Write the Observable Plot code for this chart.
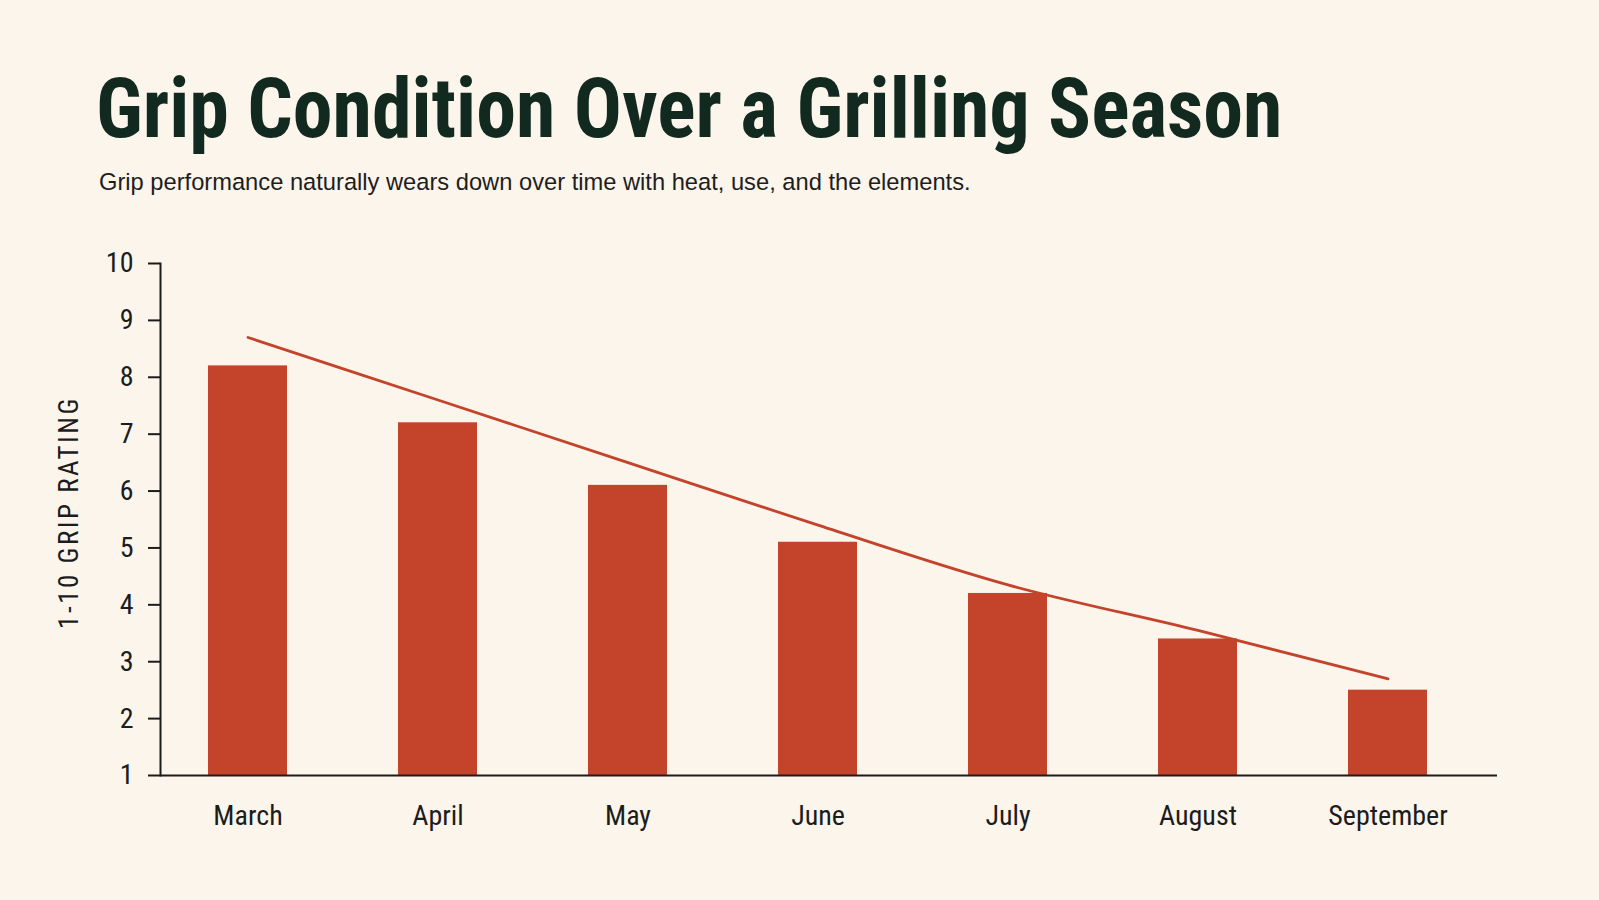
<!DOCTYPE html>
<html>
<head>
<meta charset="utf-8">
<script src="https://cdn.jsdelivr.net/npm/d3@7"></script>
<script src="https://cdn.jsdelivr.net/npm/@observablehq/plot@0.6"></script>
<style>
  html, body { margin: 0; padding: 0; background: #FBF5EC; }
  #wrap { position: relative; width: 1599px; height: 900px; overflow: hidden; background: #FBF5EC; }
  #title {
    position: absolute; left: 96px; top: 67px; margin: 0;
    font-family: "Liberation Sans Narrow", "Roboto Condensed", "DejaVu Sans Condensed", sans-serif;
    font-stretch: condensed; font-weight: 700; font-size: 84px; line-height: 1;
    color: #12291F; white-space: nowrap; transform-origin: left top; transform: scaleX(0.951);
  }
  #subtitle {
    position: absolute; left: 99px; top: 171px; margin: 0;
    font-family: "Liberation Sans", Arial, sans-serif; font-size: 23.7px; line-height: 1;
    color: #1E1E1E; white-space: nowrap;
  }
  #chart { position: absolute; left: 0; top: 0; }
  #chart svg g[aria-label="text"] text { letter-spacing: 2.5px; }
</style>
</head>
<body>
<div id="wrap">
  <div id="title">Grip Condition Over a Grilling Season</div>
  <div id="subtitle">Grip performance naturally wears down over time with heat, use, and the elements.</div>
  <div id="chart"></div>
</div>
<script>
const months = ["March", "April", "May", "June", "July", "August", "September"];
const ratings = [8.2, 7.2, 6.1, 5.1, 4.2, 3.4, 2.5];
const trend = [8.7, 7.6, 6.5, 5.4, 4.35, 3.55, 2.7];
const yTicks = [1, 2, 3, 4, 5, 6, 7, 8, 9, 10];
const baseValue = 1;
const yLabel = "1-10 GRIP RATING";

const data = months.map((m, i) => ({month: m, rating: ratings[i], trend: trend[i]}));

const narrow = "'Liberation Sans Narrow', 'Roboto Condensed', 'DejaVu Sans Condensed', sans-serif";
const ink = "#1C1C1C";
const red = "#C3432B";

const chart = Plot.plot({
  width: 1599,
  height: 900,
  marginLeft: 160,
  marginRight: 102,
  marginTop: 263,
  marginBottom: 125,
  style: {background: "transparent", fontFamily: narrow, color: ink, overflow: "visible"},
  x: {domain: months, paddingInner: 0.585, paddingOuter: 0.308, align: 0.41, label: null},
  y: {domain: [1, 10], ticks: yTicks, label: null},
  marks: [
    Plot.barY(data, {x: "month", y1: baseValue, y2: "rating", fill: red}),
    Plot.lineY(data, {x: "month", y: "trend", stroke: red, strokeWidth: 2.8, curve: "monotone-x"}),
    Plot.ruleY([baseValue], {stroke: ink, strokeWidth: 2}),
    Plot.frame({anchor: "left", stroke: ink, strokeWidth: 2}),
    Plot.axisY({ticks: yTicks, tickSize: 12, tickPadding: 15, fontSize: 28, label: null, stroke: ink, strokeWidth: 2, tickFormat: d => String(d)}),
    Plot.axisX({tickSize: 0, tickPadding: 30, fontSize: 28, label: null}),
    Plot.text([yLabel], {frameAnchor: "left", textAnchor: "middle", rotate: -90, dx: -91, dy: -7, fontSize: 27, fill: ink, fontFamily: narrow, fontWeight: 400})
  ]
});
document.getElementById("chart").appendChild(chart);
</script>
</body>
</html>
